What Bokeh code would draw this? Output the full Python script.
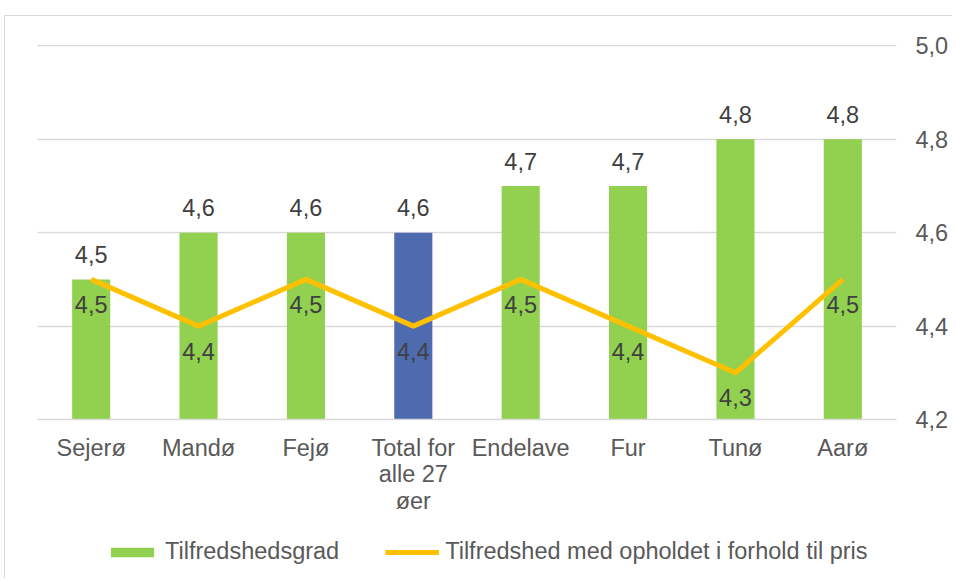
from bokeh.plotting import figure
from bokeh.models import (ColumnDataSource, FixedTicker, CustomJSTickFormatter, Legend, LegendItem,
                          Spacer, Range1d)
from bokeh.layouts import column, row
from bokeh.core.properties import value
from bokeh.embed import file_html
from bokeh.resources import INLINE

categories = ["Sejerø", "Mandø", "Fejø", "Total for\nalle 27\nøer", "Endelave", "Fur", "Tunø", "Aarø"]
tilfredshedsgrad = [4.5, 4.6, 4.6, 4.6, 4.7, 4.7, 4.8, 4.8]
pris = [4.5, 4.4, 4.5, 4.4, 4.5, 4.4, 4.3, 4.5]
bar_colors = ["#92D050", "#92D050", "#92D050", "#4F6BB0", "#92D050", "#92D050", "#92D050", "#92D050"]
y_ticks = [4.2, 4.4, 4.6, 4.8, 5.0]

FONT = "Liberation Sans"
FS = "23.5px"
GREEN = "#92D050"
GOLD = "#FFC000"

src = ColumnDataSource(dict(
    cat=categories,
    bar=tilfredshedsgrad,
    line=pris,
    color=bar_colors,
    bar_lbl=[f"{v:.1f}".replace(".", ",") for v in tilfredshedsgrad],
    line_lbl=[f"{v:.1f}".replace(".", ",") for v in pris],
))

p = figure(x_range=categories, y_range=(4.2, 5.003), width=948, height=513,
           output_backend="svg", toolbar_location=None, y_axis_location="right",
           min_border_left=32, min_border_top=28, min_border_right=57, min_border_bottom=110)
p.outline_line_color = None
p.background_fill_color = "white"
p.border_fill_color = "white"
p.styles = {"border-top": "1px solid #d9d9d9", "border-left": "1px solid #d9d9d9"}

bars = p.vbar(x="cat", top="bar", bottom=4.2, width=0.355, fill_color="color",
              line_color=None, source=src)
ln = p.line(x="cat", y="line", line_color=GOLD, line_width=5, line_join="round", source=src)

p.text(x="cat", y="bar", text="bar_lbl", source=src, text_align="center",
       text_baseline="middle", y_offset=-25, text_font=value(FONT),
       text_font_size=FS, text_color="#404040")
p.text(x="cat", y="line", text="line_lbl", source=src, text_align="center",
       text_baseline="middle", y_offset=25, text_font=value(FONT),
       text_font_size=FS, text_color="#404040")

yax = p.yaxis[0]
yax.ticker = FixedTicker(ticks=y_ticks)
yax.formatter = CustomJSTickFormatter(code="return tick.toFixed(1).replace('.', ',');")
yax.axis_line_color = None
yax.major_tick_line_color = None
yax.minor_tick_line_color = None
yax.major_label_standoff = 13
yax.major_label_text_font = FONT
yax.major_label_text_font_size = FS
yax.major_label_text_color = "#595959"

xax = p.xaxis[0]
xax.axis_line_color = "#d9d9d9"
xax.axis_line_width = 1.5
xax.major_tick_line_color = None
xax.minor_tick_line_color = None
xax.major_label_standoff = 9
xax.major_label_text_font = FONT
xax.major_label_text_font_size = FS
xax.major_label_text_color = "#595959"
xax.major_label_text_line_height = 1.02

p.xgrid.grid_line_color = None
p.ygrid.ticker = FixedTicker(ticks=y_ticks)
p.ygrid.grid_line_color = "#d9d9d9"
p.ygrid.grid_line_width = 1.5

# legend strip: same data, zero-height bars and a line outside the view, so only the legend shows
lg = figure(x_range=p.x_range, y_range=Range1d(10, 11), width=948, height=50,
            output_backend="svg", toolbar_location=None,
            x_axis_location=None, y_axis_location=None,
            min_border_left=0, min_border_right=0, min_border_top=0, min_border_bottom=0)
lg.grid.visible = False
lg.outline_line_color = None
lg.styles = {"border-left": "1px solid #d9d9d9"}
lbars = lg.vbar(x="cat", top="bar", bottom="bar", width=0.355, fill_color=GREEN,
                line_color=None, source=src)
lline = lg.line(x="cat", y="line", line_color=GOLD, line_width=5, source=src)

legend = Legend(items=[
    LegendItem(label="Tilfredshedsgrad", renderers=[lbars]),
    LegendItem(label="Tilfredshed med opholdet i forhold til pris", renderers=[lline]),
], orientation="horizontal", location=(68, 13), padding=0, margin=0,
    spacing=46, label_standoff=6, glyph_width=54, glyph_height=12,
    label_text_font=FONT, label_text_font_size=FS, label_text_color="#595959",
    border_line_color=None, background_fill_alpha=0)
lg.add_layout(legend, "center")

layout = column(Spacer(height=15), row(Spacer(width=4), column(p, lg, spacing=0), spacing=0), spacing=0)
open("out.html", "w").write(file_html(layout, INLINE))
